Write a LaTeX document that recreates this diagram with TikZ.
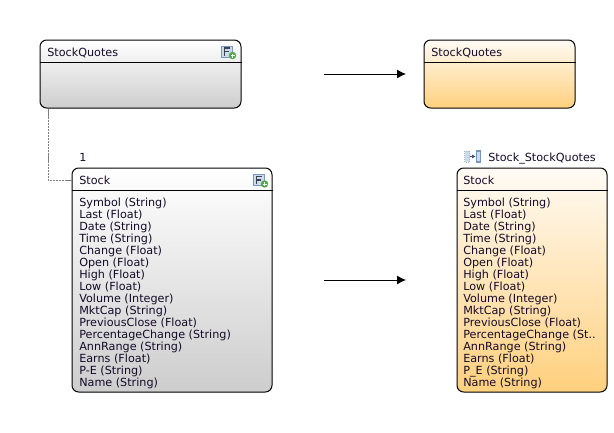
\documentclass[tikz,border=0pt]{standalone}
\usepackage{fontspec}
\setmainfont{DejaVu Sans}
\usetikzlibrary{calc,arrows.meta}
\definecolor{iconblue}{RGB}{120,150,190}
\definecolor{iconfill}{RGB}{205,218,235}
\definecolor{icongreen}{RGB}{80,170,70}
\definecolor{greylow}{RGB}{205,205,205}
\definecolor{orangelow}{RGB}{255,208,125}
\definecolor{orangetop}{RGB}{255,251,245}
\definecolor{textdark}{RGB}{20,10,40}
\tikzset{
    txt/.style={anchor=west,inner sep=0pt,text height=7pt,text depth=2pt,yshift=-0.5pt,font=\fontsize{8.4pt}{9pt}\selectfont,text=textdark},
    greybox/.style={draw=black,line width=0.75pt,rounded corners=5pt,inner sep=0pt,top color=white,bottom color=greylow},
    orangebox/.style={draw=black,line width=0.75pt,rounded corners=5pt,inner sep=0pt,top color=orangetop,bottom color=orangelow},
    link/.style={draw=gray,line width=0.7pt,dash pattern=on 1.6pt off 0.6pt},
    flow/.style={-{Latex[length=6.75pt,width=6.75pt]},line width=0.75pt},
    addicon/.pic={
        \draw [iconblue,fill=iconfill,line width=0.5pt] (-6,5.5) rectangle (5,-5.5);
        \draw [black!55!iconblue,line width=0.9pt] (-3,-4) -- (-3,3.5) -- (2,3.5) (-3,0) -- (1,0);
        \fill [icongreen] (5,-4) circle (3.7);
        \draw [white,line width=0.7pt] (3,-4) -- (7,-4) (5,-2) -- (5,-6);
    },
    mapicon/.pic={
        \draw [iconblue!70,fill=iconfill,line width=0.5pt,densely dotted] (-8,5.5) rectangle (-3,-5.5);
        \draw [black!45!iconblue,line width=0.7pt,-{Latex[length=2.5pt,width=3pt]}] (-3,0) -- (3,0);
        \draw [iconblue,line width=0.8pt,fill=iconfill] (4,5.5) rectangle (8,-5.5);
    }
}

\begin{document}
\begin{tikzpicture}[x=0.75pt,y=0.75pt,yscale=-1,xscale=1]
    \useasboundingbox (0,0) rectangle (614,432);

    % Left boxes
    \node [greybox,minimum width=150.75pt,minimum height=51pt] (quotesL) at (140.5,74) {};
    \node [greybox,minimum width=150pt,minimum height=168pt] (stockL) at (172,280) {};
    \draw [line width=0.75pt] ($(quotesL.west)+(0,-12)$) -- ($(quotesL.east)+(0,-12)$);
    \draw [line width=0.75pt] ($(stockL.west)+(0,-90)$) -- ($(stockL.east)+(0,-90)$);

    % Right boxes
    \node [orangebox,minimum width=113.25pt,minimum height=51pt] (quotesR) at (499.5,74) {};
    \node [orangebox,minimum width=112.5pt,minimum height=168pt] (stockR) at (532,280) {};
    \draw [line width=0.75pt] ($(quotesR.west)+(0,-12)$) -- ($(quotesR.east)+(0,-12)$);
    \draw [line width=0.75pt] ($(stockR.west)+(0,-90)$) -- ($(stockR.east)+(0,-90)$);

    % Connector
    \coordinate (bend) at (48,180);
    \draw [link] (bend |- quotesL.south) -- (bend) -- (bend -| stockL.west);

    % Arrows
    \coordinate (topA) at (324,74);
    \coordinate (topB) at (406,74);
    \coordinate (lowA) at (324,280);
    \coordinate (lowB) at (406,280);
    \draw [flow] (topA) -- (topB);
    \draw [flow] (lowA) -- (lowB);

    % Icons
    \pic at (227.5,51.5) {addicon};
    \pic at (259.5,180) {addicon};
    \pic at (472.5,156.5) {mapicon};

    % Text Node
    \node [txt] (titleQuotesL) at (47,52) {StockQuotes};
    \node [txt] (titleQuotesR) at (431,52) {StockQuotes};
    \node [txt] (one) at (79,157) {1};
    \node [txt] (mapName) at (488,157) {Stock\_StockQuotes};
    \node [txt] (titleStockL) at (79,180) {Stock};
    \node [txt] (titleStockR) at (463,180) {Stock};

    % Text Node
    \node [txt] (symbolL) at (79,202) {Symbol (String)};
    \node [txt] (lastL) at (79,214) {Last (Float)};
    \node [txt] (dateL) at (79,226) {Date (String)};
    \node [txt] (timeL) at (79,238) {Time (String)};
    \node [txt] (changeL) at (79,250) {Change (Float)};
    \node [txt] (openL) at (79,262) {Open (Float)};
    \node [txt] (highL) at (79,274) {High (Float)};
    \node [txt] (lowL) at (79,286) {Low (Float)};
    \node [txt] (volumeL) at (79,298) {Volume (Integer)};
    \node [txt] (capL) at (79,310) {MktCap (String)};
    \node [txt] (closeL) at (79,322) {PreviousClose (Float)};
    \node [txt] (percentL) at (79,334) {PercentageChange (String)};
    \node [txt] (rangeL) at (79,346) {AnnRange (String)};
    \node [txt] (earnsL) at (79,358) {Earns (Float)};
    \node [txt] (peL) at (79,370) {P-E (String)};
    \node [txt] (nameL) at (79,382) {Name (String)};

    % Text Node
    \node [txt] (symbolR) at (463,202) {Symbol (String)};
    \node [txt] (lastR) at (463,214) {Last (Float)};
    \node [txt] (dateR) at (463,226) {Date (String)};
    \node [txt] (timeR) at (463,238) {Time (String)};
    \node [txt] (changeR) at (463,250) {Change (Float)};
    \node [txt] (openR) at (463,262) {Open (Float)};
    \node [txt] (highR) at (463,274) {High (Float)};
    \node [txt] (lowR) at (463,286) {Low (Float)};
    \node [txt] (volumeR) at (463,298) {Volume (Integer)};
    \node [txt] (capR) at (463,310) {MktCap (String)};
    \node [txt] (closeR) at (463,322) {PreviousClose (Float)};
    \node [txt] (percentR) at (463,334) {PercentageChange (St..};
    \node [txt] (rangeR) at (463,346) {AnnRange (String)};
    \node [txt] (earnsR) at (463,358) {Earns (Float)};
    \node [txt] (peR) at (463,370) {P\_E (String)};
    \node [txt] (nameR) at (463,382) {Name (String)};
\end{tikzpicture}
\end{document}
